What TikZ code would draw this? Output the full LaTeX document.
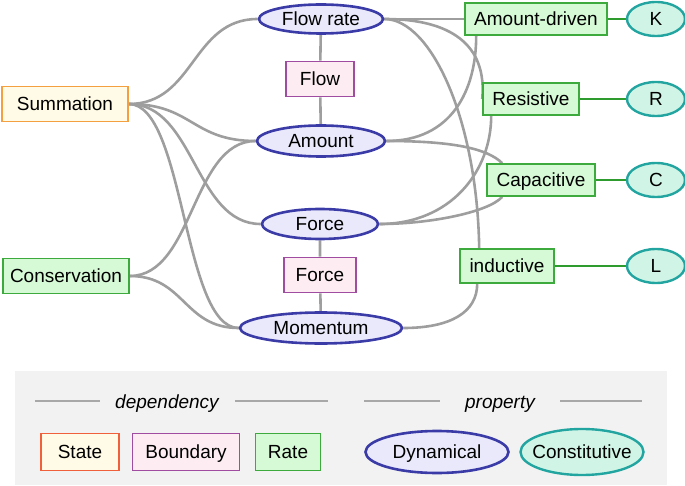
\documentclass[tikz,border=0pt]{standalone}
\usepackage{fontspec}
\setmainfont{Liberation Sans}
\usetikzlibrary{shapes.geometric}
\pgfdeclarelayer{bg}
\pgfsetlayers{bg,main}
\definecolor{edgegray}{HTML}{9E9E9E}
\definecolor{leggray}{HTML}{A8A8A8}
\definecolor{legbg}{HTML}{F2F2F2}
\definecolor{dynfill}{HTML}{E9E9FB}
\definecolor{dyndraw}{HTML}{3B3BA8}
\definecolor{consfill}{HTML}{D0F5E6}
\definecolor{consdraw}{HTML}{22A5A0}
\definecolor{ratefill}{HTML}{D6F9D6}
\definecolor{ratedraw}{HTML}{3DAA3D}
\definecolor{bndfill}{HTML}{FDEDF3}
\definecolor{bnddraw}{HTML}{A04CA0}
\definecolor{stfill}{HTML}{FFFBE6}
\definecolor{stdraw}{HTML}{F5A040}
\definecolor{stdrawleg}{HTML}{F0603A}
\definecolor{greenline}{HTML}{2E9B2E}
\newcommand{\tb}[1]{\makebox[0pt]{#1}}
\tikzset{
  base/.style={font=\fontsize{19}{22}\selectfont, inner sep=0pt, line width=1.6pt,
               text height=16.6pt, text depth=3pt},
  dyn/.style={base, ellipse, draw=dyndraw, fill=dynfill, line width=2.6pt},
  cons/.style={base, ellipse, draw=consdraw, fill=consfill, line width=2.4pt, minimum width=58pt, minimum height=34pt},
  rate/.style={base, rectangle, draw=ratedraw, fill=ratefill},
  bnd/.style={base, rectangle, draw=bnddraw, fill=bndfill},
  st/.style={base, rectangle, draw=stdraw, fill=stfill},
  dep/.style={draw=edgegray, line width=2.6pt},
  prop/.style={draw=greenline, line width=2.6pt},
  legline/.style={draw=leggray, line width=1.4pt},
}
\begin{document}
\begin{tikzpicture}[x=1pt,y=-1pt]
\path[use as bounding box] (0,0) rectangle (685,486);
% legend background
\fill[legbg] (15,371) rectangle (667,485);

% main nodes
\node[dyn, minimum width=124pt, minimum height=29pt] (fr) at (321,19) {\tb{Flow rate}};
\node[bnd, minimum width=68pt, minimum height=35pt] (flowb) at (320,79) {Flow};
\node[dyn, minimum width=128pt, minimum height=31pt] (am) at (321,141) {\tb{Amount}};
\node[dyn, minimum width=116pt, minimum height=30pt] (fo) at (320,224) {\tb{Force}};
\node[bnd, minimum width=72pt, minimum height=35pt] (forceb) at (320,275) {Force};
\node[dyn, minimum width=162pt, minimum height=31pt] (mo) at (321,328) {\tb{Momentum}};
\node[st, minimum width=126pt, minimum height=35pt] (sum) at (65,104) {Summation};
\node[rate, minimum width=126pt, minimum height=35pt] (con) at (66,276) {Conservation};
\node[rate, minimum width=142pt, minimum height=32pt] (ad) at (536,19) {Amount-driven};
\node[cons] (K) at (656,19) {\tb{K}};
\node[rate, minimum width=96pt, minimum height=32pt] (res) at (531,99) {Resistive};
\node[cons] (R) at (656,99) {\tb{R}};
\node[rate, minimum width=108pt, minimum height=32pt] (cap) at (541,180) {Capacitive};
\node[cons] (C) at (656,180) {\tb{C}};
\node[rate, minimum width=94pt, minimum height=34pt] (ind) at (507,266) {inductive};
\node[cons] (L) at (656,266) {\tb{L}};

\begin{pgfonlayer}{bg}
% vertical links
\draw[dep] (fr) -- (flowb) -- (am);
\draw[dep] (fo) -- (forceb) -- (mo);
% left side
\draw[dep] (sum.east) .. controls +(66,0) and +(-66,0) .. (fr.west);
\draw[dep] (sum.east) .. controls +(64,0) and +(-64,0) .. (am.west);
\draw[dep] (sum.east) .. controls +(66,0) and +(-66,0) .. (fo.west);
\draw[dep] (sum.east) .. controls +(56,0) and +(-56,0) .. (mo.west);
\draw[dep] (con.east) .. controls +(64,0) and +(-64,0) .. (am.west);
\draw[dep] (con.east) .. controls +(55,0) and +(-55,0) .. (mo.west);
% right side
\draw[dep] (fr.east) -- (ad.west);
\draw[dep] (fr.east) .. controls +(67,0) and +(5,-54) .. (res.west);
\draw[dep] (fr.east) .. controls +(47,0) and +(-2,-128) .. ([xshift=20pt]ind.north west);
\draw[dep] (am.east) .. controls +(65,0) and +(0,55) .. ([xshift=12pt]ad.south west);
\draw[dep] (am.east) .. controls +(65,0) and +(-15,-15) .. ([xshift=16pt]cap.north west);
\draw[dep] (fo.east) .. controls +(72,0) and +(0,55) .. ([xshift=9pt]res.south west);
\draw[dep] (fo.east) .. controls +(52,0) and +(-13,15) .. ([xshift=16pt]cap.south west);
\draw[dep] (mo.east) .. controls +(48,0) and +(0,28) .. ([xshift=18pt]ind.south west);
% property links
\draw[prop] (ad.east) -- (K.west);
\draw[prop] (res.east) -- (R.west);
\draw[prop] (cap.east) -- (C.west);
\draw[prop] (ind.east) -- (L.west);
\end{pgfonlayer}

% legend
\node[base, font=\fontsize{19}{22}\selectfont\itshape] (ldep) at (167,402) {dependency};
\node[base, font=\fontsize{19}{22}\selectfont\itshape] (lprop) at (500,402) {property};
\coordinate (d1) at (35,401); \coordinate (d2) at (100,401);
\coordinate (d3) at (235,401); \coordinate (d4) at (328,401);
\coordinate (p1) at (364,401); \coordinate (p2) at (440,401);
\coordinate (p3) at (560,401); \coordinate (p4) at (642,401);
\draw[legline] (d1) -- (d2);
\draw[legline] (d3) -- (d4);
\draw[legline] (p1) -- (p2);
\draw[legline] (p3) -- (p4);
\node[st, draw=stdrawleg, minimum width=78pt, minimum height=37pt] (lstate) at (80,452) {State};
\node[bnd, minimum width=107pt, minimum height=37pt] (lbnd) at (186,452) {Boundary};
\node[rate, minimum width=65pt, minimum height=37pt] (lrate) at (288,452) {Rate};
\node[dyn, minimum width=143pt, minimum height=42pt] (ldyn) at (437,452) {\tb{Dynamical}};
\node[cons, minimum width=123pt, minimum height=46pt] (lcons) at (582,452) {\tb{Constitutive}};
\end{tikzpicture}
\end{document}
